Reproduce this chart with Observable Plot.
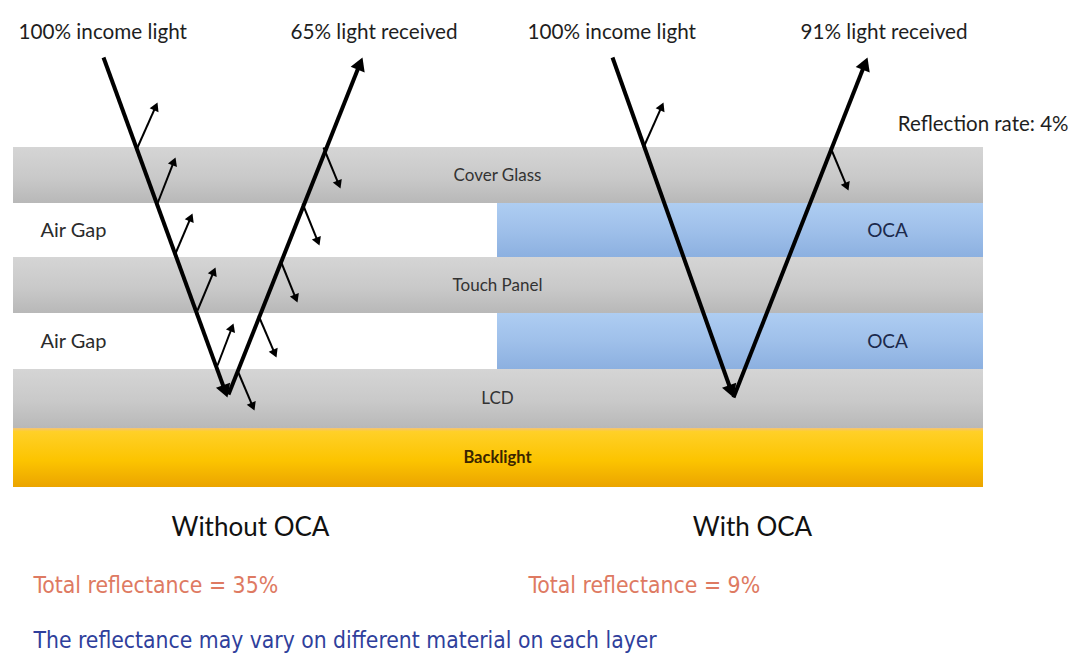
<!DOCTYPE html>
<html>
<head>
<meta charset="utf-8">
<script src="https://cdn.jsdelivr.net/npm/d3@7"></script>
<script src="https://cdn.jsdelivr.net/npm/@observablehq/plot@0.6"></script>
<style>
  html, body { margin: 0; padding: 0; background: #ffffff; }
</style>
</head>
<body>
<div id="chart"></div>
<script>
// ---------- DATA (diagram units) ----------
const layerNames  = ["Cover Glass", "Air Gap", "Touch Panel", "Air Gap", "LCD", "Backlight"];
const layerKind   = ["glass", "gap", "glass", "gap", "glass", "backlight"];
const layerTop    = [147, 203, 257, 313, 369, 428];
const layerBottom = [203, 257, 313, 369, 428, 487];
const stackLeft = 13, stackSplit = 497, stackRight = 983;
const fillerName = "OCA";

// main light paths: [x1, y1, x2, y2]
const mainRays = [
  [103, 57, 227, 397],   // without OCA – incoming
  [228, 394, 362, 57],   // without OCA – received
  [612, 57, 733, 397],   // with OCA – incoming
  [733, 397, 867, 57]    // with OCA – received
];
// small reflections at each interface: [x1, y1, x2, y2]
const reflections = [
  [137, 147, 157, 102], [157, 203, 175, 157], [175, 253, 192, 213], [197, 310, 215, 267], [217, 365, 233, 323],
  [323, 147, 340, 188], [302, 203, 319, 245], [280, 260, 297, 302], [258, 315, 276, 357], [237, 370, 254, 410],
  [643, 147, 663, 102], [830, 147, 848, 190]
];

const topLabels  = ["100% income light", "65% light received", "100% income light", "91% light received"];
const topLabelX  = [18, 290, 527, 800];
const rateLabel  = "Reflection rate: 4%";
const panelTitles = ["Without OCA", "With OCA"];
const panelCenter = [250, 752];
const totals = ["Total reflectance = 35%", "Total reflectance = 9%"];
const totalsX = [33, 528];
const note = "The reflectance may vary on different material on each layer";

// ---------- TABLES ----------
const W = 1072, H = 657;
const bands = [];
const bandLabels = [];
layerNames.forEach((name, i) => {
  const kind = layerKind[i], top = layerTop[i], bottom = layerBottom[i], mid = (top + bottom) / 2;
  if (kind === "gap") {
    bands.push({x1: stackLeft, x2: stackSplit, y1: top, y2: bottom, fill: "#ffffff"});
    bands.push({x1: stackSplit, x2: stackRight, y1: top, y2: bottom, fill: "url(#gOca)"});
    bandLabels.push({text: name, x: 40, y: mid, role: "gap"});
    bandLabels.push({text: fillerName, x: 887, y: mid, role: "oca"});
  } else {
    bands.push({x1: stackLeft, x2: stackRight, y1: top, y2: bottom,
                fill: kind === "glass" ? "url(#gGlass)" : "url(#gBack)"});
    bandLabels.push({text: name, x: stackSplit, y: mid, role: kind});
  }
});
const toSeg = ([x1, y1, x2, y2]) => ({x1, y1, x2, y2});
const byRole = r => bandLabels.filter(d => d.role === r);

// arrows: shaft shortened to the head's centroid, head drawn as a rotated filled triangle
function arrowParts(list, r) {
  const tip = 2 * Math.sqrt(Math.PI * r * r / (3 * Math.sqrt(3)));
  return list.map(toSeg).map(s => {
    const dx = s.x2 - s.x1, dy = s.y2 - s.y1, L = Math.hypot(dx, dy), ux = dx / L, uy = dy / L;
    const hx = s.x2 - ux * tip, hy = s.y2 - uy * tip;
    return {x1: s.x1, y1: s.y1, x2: hx, y2: hy, hx, hy, angle: Math.atan2(ux, -uy) * 180 / Math.PI};
  });
}
const rayParts = arrowParts(mainRays, 5.6);
const reflParts = arrowParts(reflections, 3.6);
const tops = topLabels.map((t, i) => ({t, x: topLabelX[i], y: 32}));

const labelFont = "Lato, 'Open Sans', sans-serif";
const narrowFont = "'Liberation Sans Narrow', 'Arial Narrow', 'DejaVu Sans Condensed', sans-serif";

const chart = Plot.plot({
  width: W, height: H, margin: 0,
  x: {domain: [0, W], range: [0, W], axis: null},
  y: {domain: [0, H], range: [0, H], axis: null},
  style: {background: "#ffffff", overflow: "visible"},
  marks: [
    Plot.rect(bands, {x1: "x1", x2: "x2", y1: "y1", y2: "y2", fill: d => d.fill}),
    Plot.text(byRole("glass"),
      {x: "x", y: "y", text: "text", fill: "#333333", fontSize: 17, fontFamily: labelFont, textAnchor: "middle"}),
    Plot.text(byRole("backlight"),
      {x: "x", y: "y", text: "text", fill: "#3a2500", fontSize: 16.5, fontWeight: 700, fontFamily: labelFont, textAnchor: "middle"}),
    Plot.text(byRole("gap"),
      {x: "x", y: "y", text: "text", fill: "#2b2b2b", fontSize: 20, fontFamily: labelFont, textAnchor: "start"}),
    Plot.text(byRole("oca"),
      {x: "x", y: "y", text: "text", fill: "#1c2a4c", fontSize: 19, fontFamily: labelFont, textAnchor: "middle"}),
    Plot.link(reflParts, {x1: "x1", y1: "y1", x2: "x2", y2: "y2", stroke: "#000", strokeWidth: 2}),
    Plot.dot(reflParts, {x: "hx", y: "hy", symbol: "triangle", r: 3.6, rotate: "angle", fill: "#000", stroke: "none"}),
    Plot.link(rayParts, {x1: "x1", y1: "y1", x2: "x2", y2: "y2", stroke: "#000", strokeWidth: 4}),
    Plot.dot(rayParts, {x: "hx", y: "hy", symbol: "triangle", r: 5.6, rotate: "angle", fill: "#000", stroke: "none"}),
    Plot.text(tops, {x: "x", y: "y", text: "t", fill: "#1e1e1e", fontSize: 20.7, fontFamily: labelFont, textAnchor: "start"}),
    Plot.text([rateLabel], {x: 1068, y: 124, text: d => d, fill: "#1e1e1e", fontSize: 20.5, fontFamily: labelFont, textAnchor: "end"}),
    Plot.text(panelTitles, {x: (d, i) => panelCenter[i], y: 527, text: d => d, fill: "#111", fontSize: 26, fontFamily: labelFont, textAnchor: "middle"}),
    Plot.text(totals, {x: (d, i) => totalsX[i], y: 585, text: d => d, fill: "#de7a62", fontSize: 22.8, fontFamily: narrowFont, textAnchor: "start"}),
    Plot.text([note], {x: 33, y: 640, text: d => d, fill: "#2f3f9c", fontSize: 22.7, fontFamily: narrowFont, textAnchor: "start"})
  ]
});

// gradients for the layers
const defs = d3.select(chart).insert("defs", ":first-child");
function grad(id, stops) {
  const g = defs.append("linearGradient").attr("id", id).attr("x1", 0).attr("y1", 0).attr("x2", 0).attr("y2", 1);
  stops.forEach(([o, c]) => g.append("stop").attr("offset", o).attr("stop-color", c));
}
grad("gGlass", [[0, "#d5d5d5"], [0.55, "#c9c9c9"], [1, "#b8b8b8"]]);
grad("gOca", [[0, "#aecdf2"], [0.5, "#9fc0ea"], [1, "#8cb0e0"]]);
grad("gBack", [[0, "#f3c27a"], [0.06, "#ffd028"], [0.55, "#fcc400"], [1, "#eba400"]]);

document.getElementById("chart").appendChild(chart);
</script>
</body>
</html>
